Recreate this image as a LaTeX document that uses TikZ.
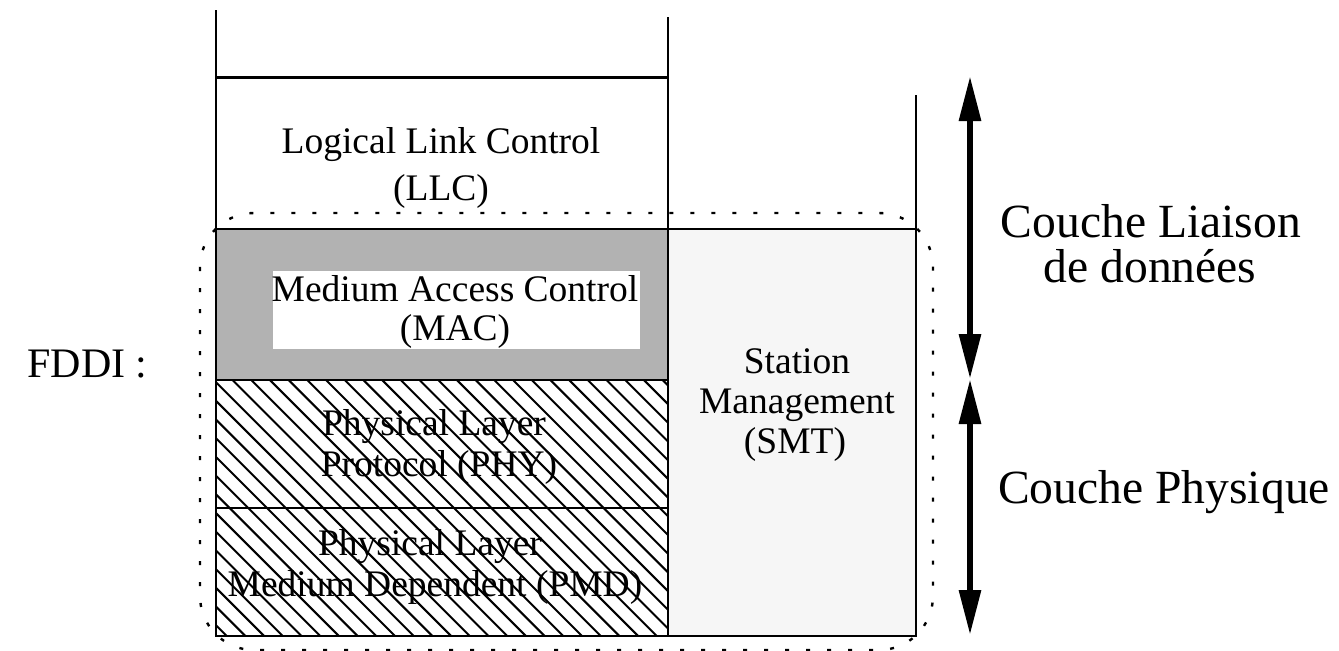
\documentclass[tikz,border=0pt]{standalone}
\usepackage{fontspec}
\setmainfont{Liberation Serif}
\usetikzlibrary{arrows.meta}
\definecolor{macgray}{gray}{0.70}
\definecolor{smtgray}{gray}{0.965}
\tikzset{
  frame/.style={line width=1.3pt},
  lbl/.style={anchor=base, inner sep=0pt, font=\fontsize{18.75pt}{22pt}\selectfont},
  biglbl/.style={anchor=base, inner sep=0pt, font=\fontsize{23.8pt}{28pt}\selectfont},
  hatchline/.style={line width=1pt},
  span/.style={line width=3pt, {Triangle[length=22.5pt,width=10.5pt]}-{Triangle[length=22.5pt,width=10.5pt]}},
  zone/.style={line width=1.2pt, dash pattern=on 2pt off 8.5pt, rounded corners=27pt},
}
\begin{document}
\begin{tikzpicture}[x=0.5pt,y=-0.5pt]
\useasboundingbox (0,0) rectangle (1339,650);

% layer fills
\fill[macgray] (216,229) rectangle (668,380);
\fill[smtgray] (668,229) rectangle (916,636);
\fill[white] (273,271) rectangle (640,349);

% hatching of the two physical sublayers
\begin{scope}
  \clip (216,380) rectangle (668,636);
  \foreach \k in {0,...,42}
    \draw[hatchline] ({-48+\k*18.7},380) -- ++(260,260);
\end{scope}

% stack outline
\draw[frame] (216,10) -- (216,636) -- (916,636) -- (916,95);
\draw[frame] (668,17) -- (668,636);
\draw[frame] (216,77.7) -- (668,77.7);
\draw[frame] (216,229) -- (916,229);
\draw[frame] (216,380) -- (668,380);
\draw[frame] (216,508) -- (668,508);

% FDDI scope
\draw[zone] (200,213) rectangle (933,650);

% layer spans
\coordinate (top) at (970,76);
\coordinate (mid) at (970,379);
\coordinate (bot) at (970,635);
\draw[span] (top) -- (mid);
\draw[span] (mid) -- (bot);

% sublayer labels
\node[lbl] (llc1) at (441,153) {Logical Link Control};
\node[lbl] (llc2) at (441,200) {(LLC)};
\node[lbl] (mac1) at (455,301.5) {Medium Access Control};
\node[lbl] (mac2) at (455,340) {(MAC)};
\node[lbl] (phy1) at (434,435) {Physical Layer};
\node[lbl] (phy2) at (439,476.5) {Protocol (PHY)};
\node[lbl] (pmd1) at (430,555) {Physical Layer};
\node[lbl] (pmd2) at (435,596.5) {Medium Dependent (PMD)};
\node[lbl] (smt1) at (797,373) {Station};
\node[lbl] (smt2) at (797,413) {Management};
\node[lbl] (smt3) at (795,453) {(SMT)};

% side labels
\node[biglbl, font=\fontsize{21pt}{25pt}\selectfont, anchor=base west] (fddi) at (27,377) {FDDI :};
\node[biglbl] (cl1) at (1151,237) {Couche Liaison};
\node[biglbl] (cl2) at (1150,282) {de données};
\node[biglbl] (cp) at (1164,503) {Couche Physique};
\end{tikzpicture}
\end{document}
